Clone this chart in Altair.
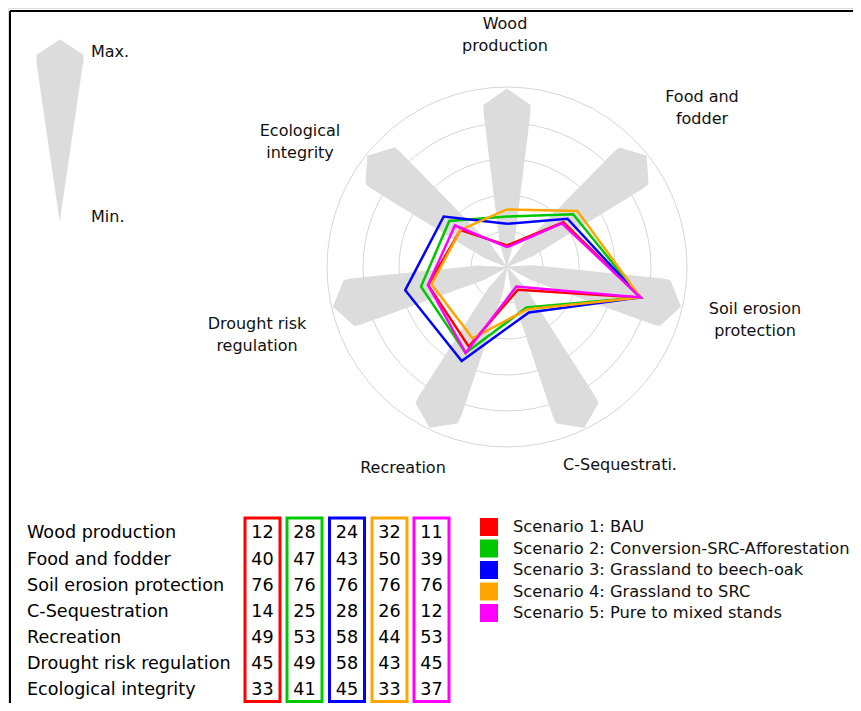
import altair as alt
import numpy as np
import pandas as pd

# ---------------- data ----------------
services = ["Wood production", "Food and fodder", "Soil erosion protection",
            "C-Sequestration", "Recreation", "Drought risk regulation",
            "Ecological integrity"]
axis_labels = [["Wood", "production"], ["Food and", "fodder"],
               ["Soil erosion", "protection"], ["C-Sequestrati."],
               ["Recreation"], ["Drought risk", "regulation"],
               ["Ecological", "integrity"]]
scenarios = ["Scenario 1: BAU",
             "Scenario 2: Conversion-SRC-Afforestation",
             "Scenario 3: Grassland to beech-oak",
             "Scenario 4: Grassland to SRC",
             "Scenario 5: Pure to mixed stands"]
colors = ["#ff0000", "#00c800", "#0000ff", "#ffa500", "#ff00ff"]
s1 = [12, 40, 76, 14, 49, 45, 33]
s2 = [28, 47, 76, 25, 53, 49, 41]
s3 = [24, 43, 76, 28, 58, 58, 45]
s4 = [32, 50, 76, 26, 44, 43, 33]
s5 = [11, 39, 76, 12, 53, 45, 37]
series = [s1, s2, s3, s4, s5]
ring_values = [20, 40, 60, 80, 100]
max_label, min_label = "Max.", "Min."

# ---------------- layout (pixel space of the plot area) ----------------
W, H = 845, 695
OFF = 8                      # page margin
CX, CY = 507 - OFF, 267 - OFF  # radar centre
K = 1.8                      # px per value unit
N = len(services)
angles = [2 * np.pi * i / N for i in range(N)]

label_pos = [(505, 35), (702, 108), (755, 320), (620, 465), (403, 468),
             (257, 335), (300, 142)]
LINE_H = 22

kite_local = [(0, 0), (25, -7), (155, -23), (162, -23), (178, 0),
              (162, 23), (155, 23), (25, 7)]
sym_local = [(0, 0), (157, -23), (165, -23), (180, 0), (165, 23), (157, 23)]

row_y = [533, 560, 586, 612, 638, 664, 690]
col_x = [262.5, 304.5, 347, 389.5, 431.5]
BOX_W, BOX_TOP, BOX_BOT = 35, 518, 701.5
TABLE_LABEL_X = 27
LEG_SQ_X, LEG_TXT_X = 489, 513
leg_y = [527, 548.5, 570, 591.5, 613]

FONT = "DejaVu Sans"

xs = alt.Scale(domain=[0, W], nice=False, zero=False)
ys = alt.Scale(domain=[0, H], nice=False, zero=False, reverse=True)
X = lambda f="x": alt.X(f"{f}:Q", scale=xs, axis=None)
Y = lambda f="y": alt.Y(f"{f}:Q", scale=ys, axis=None)
cscale = alt.Scale(domain=scenarios, range=colors)


def pg(px, py):
    return px - OFF, py - OFF


# ---------------- kites ----------------
rows = []
for i, th in enumerate(angles):
    ux, uy = np.sin(th), -np.cos(th)
    qx, qy = np.cos(th), np.sin(th)
    for o, (r, s) in enumerate(kite_local):
        rows.append(dict(k=f"k{i}", o=o, x=CX + r * ux + s * qx,
                         y=CY + r * uy + s * qy))
bx, by = pg(60, 220)
for o, (r, s) in enumerate(sym_local):
    rows.append(dict(k="sym", o=o, x=bx + s, y=by - r))
kites = alt.Chart(pd.DataFrame(rows)).mark_line(
    fill="#dcdcdc", stroke="#dcdcdc", strokeWidth=1, opacity=1
).encode(x=X(), y=Y(), detail="k:N", order="o:Q")

# ---------------- rings ----------------
rings = alt.Chart(pd.DataFrame({
    "v": ring_values, "x": [CX] * len(ring_values), "y": [CY] * len(ring_values)
})).transform_calculate(
    s=f"pow(2*{K}*datum.v, 2)"
).mark_point(shape="circle", filled=False, color="#d6d6d6", strokeWidth=1,
             opacity=1).encode(x=X(), y=Y(), size=alt.Size("s:Q", scale=None))

# ---------------- scenario polygons ----------------
prow = []
for name, vals in zip(scenarios, series):
    for o in range(N + 1):
        v = vals[o % N]
        th = angles[o % N]
        prow.append(dict(scenario=name, o=o, x=CX + K * v * np.sin(th),
                         y=CY - K * v * np.cos(th)))
polys = alt.Chart(pd.DataFrame(prow)).mark_line(strokeWidth=2.5).encode(
    x=X(), y=Y(), order="o:Q",
    color=alt.Color("scenario:N", scale=cscale, legend=None))

# ---------------- axis labels ----------------
lrow = []
for lab, (px, py) in zip(axis_labels, label_pos):
    n = len(lab)
    for j, t in enumerate(lab):
        lx, ly = pg(px, py + (j - (n - 1) / 2) * LINE_H)
        lrow.append(dict(t=t, x=lx, y=ly))
mx, my = pg(91, 52)
nx, ny = pg(91, 217)
lrow_left = [dict(t=max_label, x=mx, y=my), dict(t=min_label, x=nx, y=ny)]
axis_text = alt.Chart(pd.DataFrame(lrow)).mark_text(
    font=FONT, fontSize=16, color="#111", align="center", baseline="middle"
).encode(x=X(), y=Y(), text="t:N")
mm_text = alt.Chart(pd.DataFrame(lrow_left)).mark_text(
    font=FONT, fontSize=16, color="#111", align="left", baseline="middle"
).encode(x=X(), y=Y(), text="t:N")

# ---------------- table ----------------
trow = [dict(t=s, x=TABLE_LABEL_X - OFF, y=ry - OFF) for s, ry in zip(services, row_y)]
table_labels = alt.Chart(pd.DataFrame(trow)).mark_text(
    font=FONT, fontSize=17.6, color="#000", align="left", baseline="middle"
).encode(x=X(), y=Y(), text="t:N")

nrow = []
for name, vals, cx in zip(scenarios, series, col_x):
    for v, ry in zip(vals, row_y):
        nrow.append(dict(t=str(v), x=cx - OFF, y=ry - OFF))
table_nums = alt.Chart(pd.DataFrame(nrow)).mark_text(
    font=FONT, fontSize=17.6, color="#000", align="center", baseline="middle"
).encode(x=X(), y=Y(), text="t:N")

brow = [dict(scenario=n, x=cx - BOX_W / 2 - OFF, x2=cx + BOX_W / 2 - OFF,
             y=BOX_TOP - OFF, y2=BOX_BOT - OFF) for n, cx in zip(scenarios, col_x)]
boxes = alt.Chart(pd.DataFrame(brow)).mark_rect(
    fillOpacity=0, strokeWidth=3
).encode(x=X(), x2="x2:Q", y=Y(), y2="y2:Q",
         stroke=alt.Stroke("scenario:N", scale=cscale, legend=None))

# ---------------- legend ----------------
grow = [dict(scenario=n, x=LEG_SQ_X - OFF, tx=LEG_TXT_X - OFF, y=ly - OFF)
        for n, ly in zip(scenarios, leg_y)]
gdf = pd.DataFrame(grow)
leg_sq = alt.Chart(gdf).mark_square(size=324, opacity=1).encode(
    x=X(), y=Y(), color=alt.Color("scenario:N", scale=cscale, legend=None))
leg_txt = alt.Chart(gdf).mark_text(
    font=FONT, fontSize=16.3, color="#111", align="left", baseline="middle"
).encode(x=X("tx"), y=Y(), text="scenario:N")

# ---------------- frame ----------------
frame = alt.Chart(pd.DataFrame([
    dict(x=10 - OFF, x2=W, y=11 - OFF, y2=11 - OFF),
    dict(x=10 - OFF, x2=10 - OFF, y=11 - OFF, y2=H),
])).mark_rule(color="black", strokeWidth=2).encode(
    x=X(), x2="x2:Q", y=Y(), y2="y2:Q")

chart = alt.layer(
    rings, kites, polys, axis_text, mm_text, table_labels, table_nums, boxes,
    leg_sq, leg_txt, frame
).properties(
    width=W, height=H, padding=0,
    autosize=alt.AutoSizeParams(type="none")
).configure_view(strokeWidth=0).configure(background="white")

chart.save("out.html", embed_options={"renderer": "svg", "actions": False})
